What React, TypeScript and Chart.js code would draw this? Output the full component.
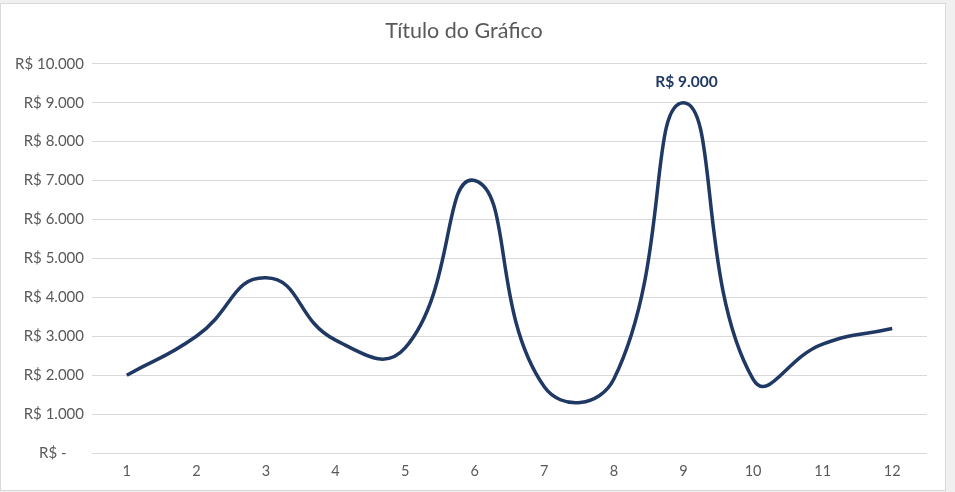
import React, { useEffect, useRef } from "react";
import { Chart, registerables } from "chart.js";

Chart.register(...registerables);

const categories = ["1", "2", "3", "4", "5", "6", "7", "8", "9", "10", "11", "12"];
const values = [2000, 3000, 4500, 2900, 2700, 7000, 1700, 1900, 9000, 1900, 2800, 3200];
const labelIndex = 8;
const titleText = "Título do Gráfico";

const fmt = (v: number) =>
  v === 0 ? "R$ -\u2007\u2007" : "R$ " + String(v).replace(/\B(?=(\d{3})+(?!\d))/g, ".");

const LINE = "#203864";
const FONT = "Lato, 'Open Sans', sans-serif";

export default function App() {
  const ref = useRef<HTMLCanvasElement>(null);
  useEffect(() => {
    document.body.style.margin = "0";
    const labelPlugin = {
      id: "dlabel",
      afterDatasetsDraw(chart: any) {
        const meta = chart.getDatasetMeta(0);
        const pt = meta.data[labelIndex];
        if (!pt) return;
        const ctx = chart.ctx;
        ctx.save();
        ctx.font = "bold 15.5px " + FONT;
        ctx.fillStyle = LINE;
        ctx.textAlign = "center";
        ctx.textBaseline = "middle";
        ctx.fillText(fmt(values[labelIndex]), pt.x + 3, pt.y - 21);
        ctx.restore();
      },
    };
    const chart = new Chart(ref.current!, {
      type: "line",
      data: {
        labels: categories,
        datasets: [
          {
            data: values,
            borderColor: LINE,
            borderWidth: 3.5,
            pointRadius: 0,
            tension: 0.5,
            fill: false,
          },
        ],
      },
      options: {
        animation: false,
        responsive: false,
        layout: { padding: { left: 0, right: 18, top: 0, bottom: 0 } },
        plugins: {
          legend: { display: false },
          tooltip: { enabled: false },
          title: {
            display: true,
            text: titleText,
            color: "#595959",
            font: { family: FONT, size: 21.5, weight: "normal" },
            padding: { top: 14, bottom: 20 },
          },
        },
        scales: {
          x: {
            offset: true,
            grid: { display: false, drawTicks: false },
            border: { display: false },
            ticks: { color: "#595959", font: { family: FONT, size: 14.5 }, padding: 10, maxRotation: 0 },
            afterFit: (s: any) => {
              s.height = 37;
            },
          },
          y: {
            min: 0,
            max: 10000,
            grid: { color: "#d9d9d9", drawTicks: false, lineWidth: 1 },
            border: { display: false },
            ticks: {
              stepSize: 1000,
              color: "#595959",
              font: { family: FONT, size: 15 },
              padding: 8,
              callback: (v: any) => fmt(Number(v)),
            },
            afterFit: (s: any) => {
              s.width = 91;
            },
          },
        },
      },
      plugins: [labelPlugin],
    });
    return () => chart.destroy();
  }, []);
  return (
    <div style={{ position: "fixed", inset: 0, background: "#f0f0f0" }}>
      <div
        style={{
          position: "absolute",
          left: 0,
          top: 3,
          width: 944,
          height: 486,
          border: "1px solid #d9d9d9",
          background: "#ffffff",
        }}
      >
        <canvas ref={ref} width={944} height={486} style={{ display: "block" }} />
      </div>
    </div>
  );
}
